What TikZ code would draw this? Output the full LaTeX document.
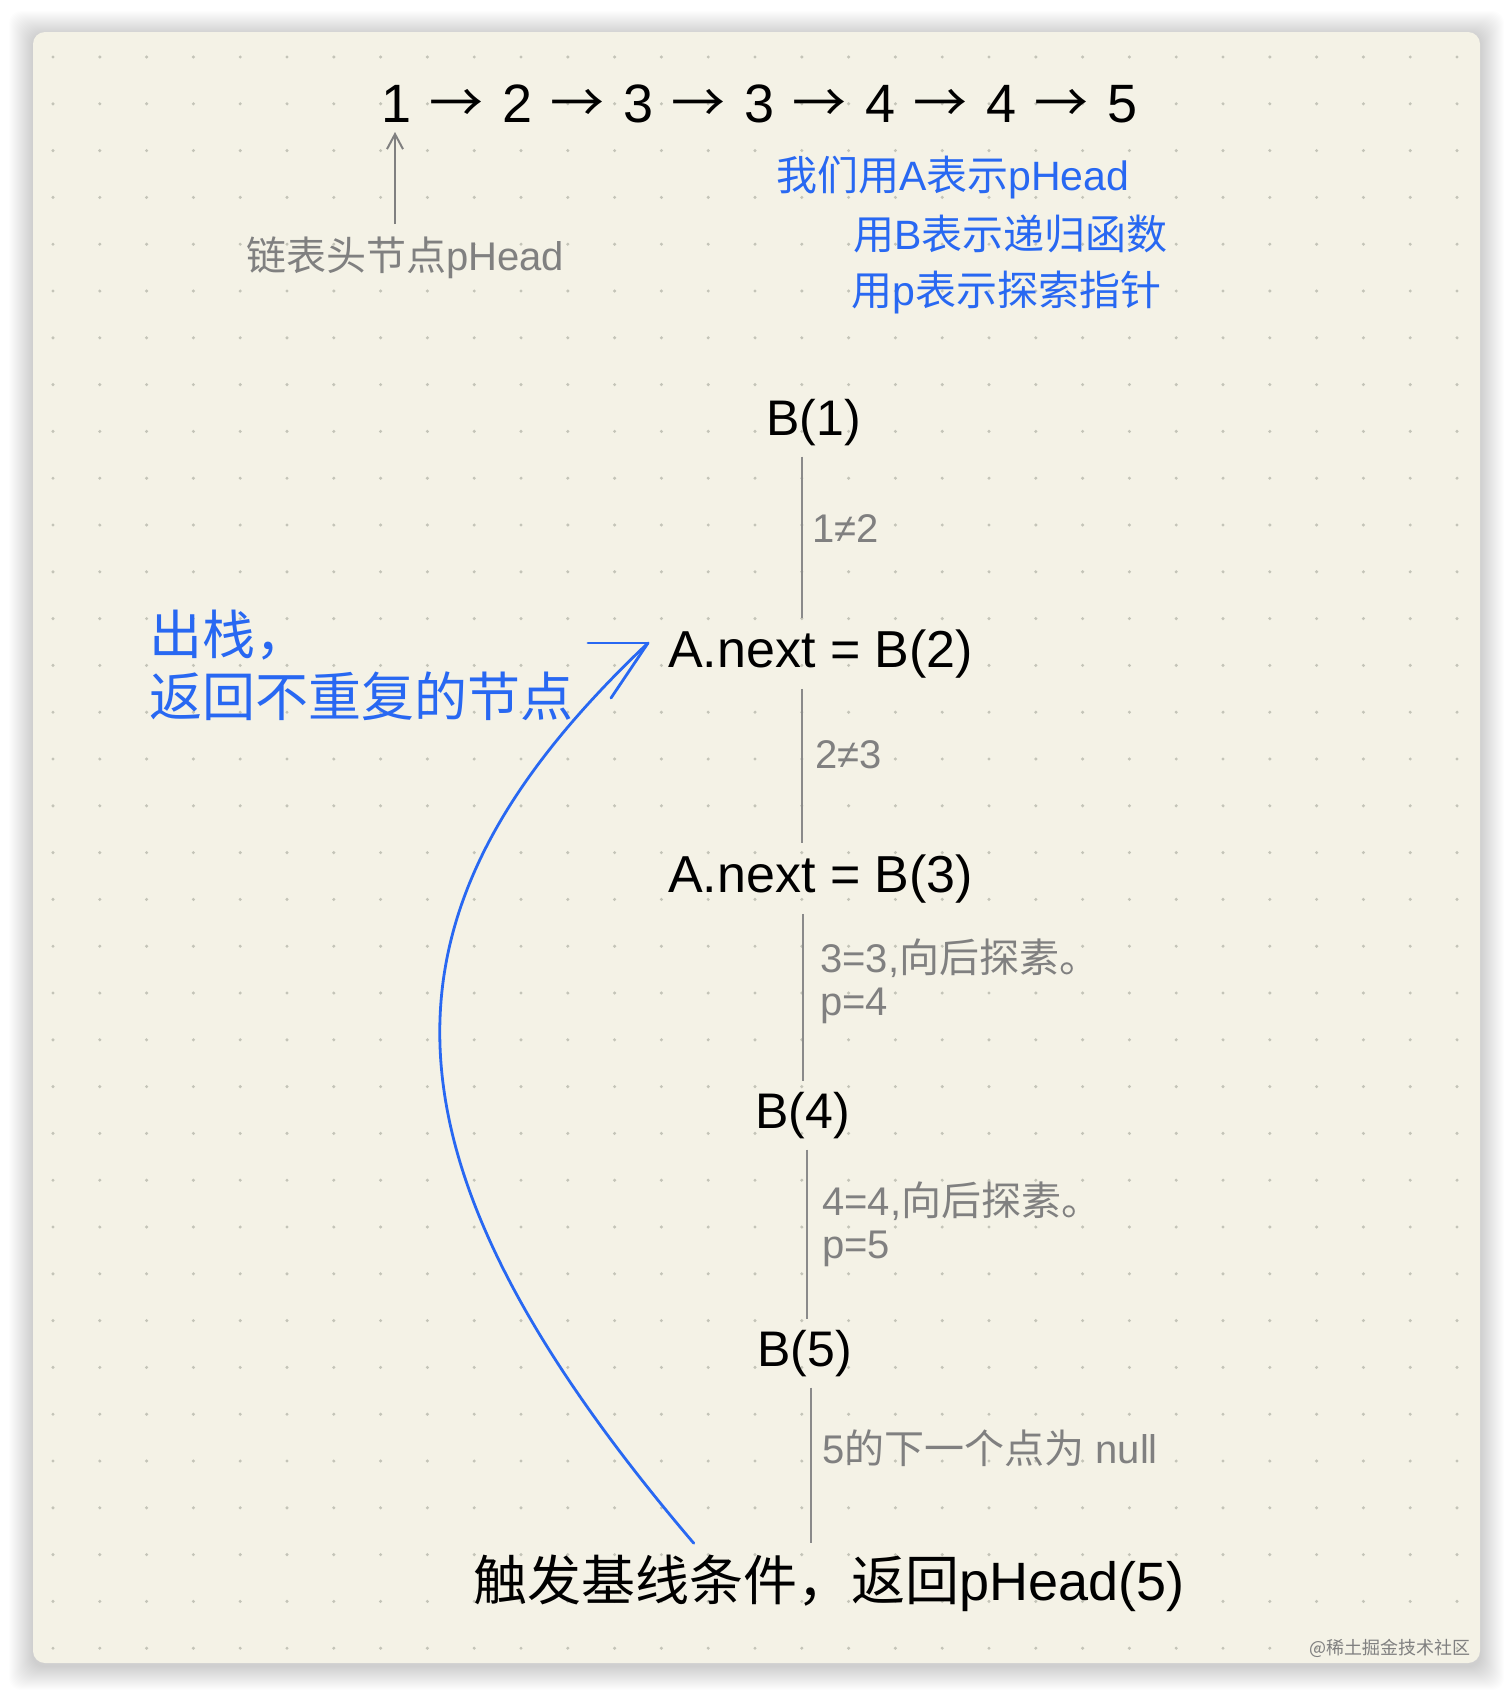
\documentclass[tikz,border=0pt]{standalone}
\usepackage{fontspec}
\setmainfont{Liberation Sans}
\newfontfamily\cjk{Noto Sans CJK SC}
\usetikzlibrary{arrows.meta}

\definecolor{paper}{RGB}{244,242,230}
\definecolor{dotgray}{RGB}{196,196,184}
\definecolor{stemgray}{RGB}{138,138,138}
\definecolor{notegray}{RGB}{128,128,128}
\definecolor{markblue}{RGB}{40,104,242}

\newcommand{\nxt}{\hspace{18.5pt}{\cjk →}\hspace{18.5pt}}

\tikzset{
  level/.style={font=\fontsize{50}{58}\selectfont, inner xsep=0pt, inner ysep=11pt, anchor=base west},
  assign/.style={level, font=\fontsize{52}{60}\selectfont},
  cond/.style={text=notegray, font=\fontsize{40}{43}\selectfont, inner sep=0pt, anchor=base west, align=left},
  note/.style={text=markblue, font=\fontsize{41}{48}\selectfont, inner sep=0pt, anchor=base west},
  stem/.style={stemgray, line width=2.6pt},
  back/.style={markblue, line width=2.8pt, line cap=round},
}

\begin{document}
\begin{tikzpicture}[x=1pt,y=-1pt]
	\useasboundingbox (0,0) rectangle (1512,1697);

	% card with its shadow
	\foreach \s in {1,...,24}
		\fill[black, opacity=0.007, rounded corners=12pt] (33-\s,35-\s) rectangle (1480+\s,1666+\s);
	\fill[paper, rounded corners=12pt] (33,32) rectangle (1480,1663);
	\foreach \i in {0,...,30}
		\foreach \j in {0,...,34}
			\fill[dotgray] (53+46.8*\i,57+46.8*\j) circle [radius=1.7pt];

	% the list and the notes
	\node[font=\fontsize{54}{60}\selectfont, inner sep=0pt, anchor=base west] (list) at (381,122) {1\nxt 2\nxt 3\nxt 3\nxt 4\nxt 4\nxt 5};
	\node[cond] (headlbl) at (246,270) {{\cjk 链表头节点}pHead};
	\coordinate (headx) at (395,132);
	\draw[notegray, line width=2pt, shorten <=12pt, -{Straight Barb[length=15pt,width=16pt]}] (headlbl.north -| headx) -- (headx);

	\node[note] (noteA) at (776,190) {{\cjk 我们用}A{\cjk 表示}pHead};
	\node[note] (noteB) at (853,249) {{\cjk 用}B{\cjk 表示递归函数}};
	\node[note] (noteP) at (851,305) {{\cjk 用}p{\cjk 表示探索指针}};

	% recursion chain
	\node[level] (b1) at (766,435) {B(1)};
	\node[assign] (a2) at (668,667) {A.next = B(2)};
	\node[assign] (a3) at (668,892) {A.next = B(3)};
	\node[level] (b4) at (755,1128) {B(4)};
	\node[level] (b5) at (757,1366) {B(5)};
	\node[level, font=\fontsize{54}{62}\selectfont] (trigger) at (473,1600) {{\cjk 触发基线条件，返回}pHead(5)};

	\coordinate (g1) at (802,0);
	\coordinate (g2) at (802,0);
	\coordinate (g3) at (803,0);
	\coordinate (g4) at (807,0);
	\coordinate (g5) at (811,0);
	\draw[stem] (b1.south -| g1) -- (a2.north -| g1);
	\draw[stem] (a2.south -| g2) -- (a3.north -| g2);
	\draw[stem] (a3.south -| g3) -- (b4.north -| g3);
	\draw[stem] (b4.south -| g4) -- (b5.north -| g4);
	\draw[stem] (b5.south -| g5) -- (trigger.north -| g5);

	\node[cond] (c1) at (812,542) {1≠2};
	\node[cond] (c2) at (815,768) {2≠3};
	\node[cond] (c3) at (820,1015) {3=3,{\cjk 向后探素。}\\p=4};
	\node[cond] (c4) at (822,1258) {4=4,{\cjk 向后探素。}\\p=5};
	\node[cond] (c5) at (822,1463) {5{\cjk 的下一个点为} null};

	% popping back up
	\node[note, font=\fontsize{53}{62}\selectfont, align=left] (pop) at (149,716) {{\cjk 出栈，}\\{\cjk 返回不重复的节点}};
	\coordinate (tip) at (648,643);
	\draw[back] ([xshift=-135pt]trigger.north) .. controls (358,1149) and (368,908) .. (tip);
	\draw[back] (tip) -- ++(-60,0);
	\draw[back] (tip) -- ++(-37,55);

	\node[text=notegray, font=\fontsize{18}{20}\selectfont\cjk, inner sep=0pt, anchor=base east] (mark) at (1471,1654) {@稀土掘金技术社区};

\end{tikzpicture}
\end{document}
